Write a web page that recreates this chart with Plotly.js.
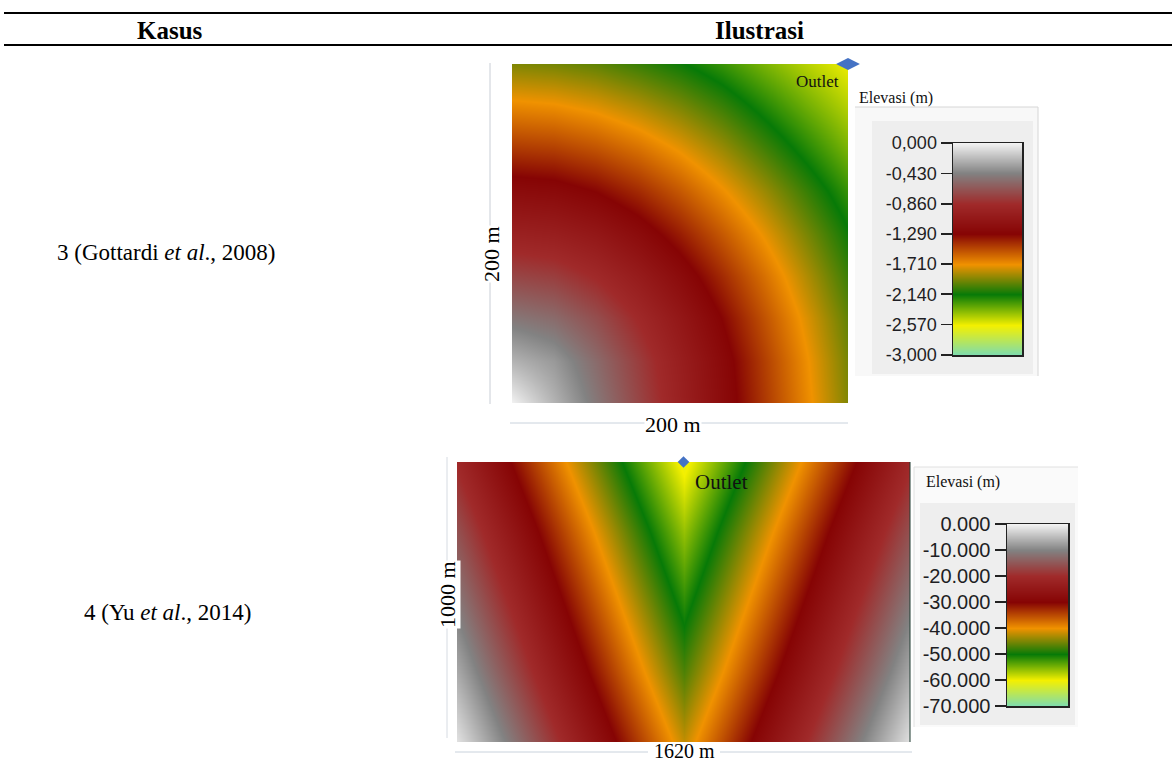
<!DOCTYPE html>
<html>
<head>
<meta charset="utf-8">
<script src="https://cdn.plot.ly/plotly-3.0.1.min.js"></script>
<style>
  html, body { margin: 0; padding: 0; background: #ffffff; }
  #chart { width: 1172px; height: 763px; }
</style>
</head>
<body>
<div id="chart"></div>
<script>
// Case 3 (Gottardi et al., 2008): 200 m x 200 m basin, elevation (m)
const case3X = [0, 25, 50, 75, 100, 125, 150, 175, 200];
const case3Y = [0, 25, 50, 75, 100, 125, 150, 175, 200];
const case3Z = [
  [ 0.00, -0.24, -0.48, -0.72, -0.96, -1.20, -1.44, -1.68, -1.92],
  [-0.24, -0.34, -0.54, -0.76, -0.99, -1.22, -1.46, -1.70, -1.94],
  [-0.48, -0.54, -0.68, -0.87, -1.07, -1.29, -1.52, -1.75, -1.98],
  [-0.72, -0.76, -0.87, -1.02, -1.20, -1.40, -1.61, -1.83, -2.05],
  [-0.96, -0.99, -1.07, -1.20, -1.36, -1.54, -1.73, -1.93, -2.13],
  [-1.20, -1.22, -1.29, -1.40, -1.54, -1.70, -1.87, -2.05, -2.23],
  [-1.44, -1.46, -1.52, -1.61, -1.73, -1.87, -2.03, -2.19, -2.35],
  [-1.68, -1.70, -1.75, -1.83, -1.93, -2.05, -2.19, -2.33, -2.46],
  [-1.92, -1.94, -1.98, -2.05, -2.13, -2.23, -2.35, -2.46, -2.56]
];
const case3Outlet = { x: [200], y: [200] };
const case3Ticks = [0, -0.43, -0.86, -1.29, -1.71, -2.14, -2.57, -3.0];
const case3TickText = ['0,000', '-0,430', '-0,860', '-1,290', '-1,710', '-2,140', '-2,570', '-3,000'];

// Case 4 (Yu et al., 2014): 1620 m x 1000 m V-shaped catchment, elevation (m)
const case4X = [0, 202.5, 405, 607.5, 810, 1012.5, 1215, 1417.5, 1620];
const case4Y = [0, 250, 500, 750, 1000];
const case4Z = [
  [ -1.5, -11.6, -21.7, -31.9, -42.0, -31.9, -21.7, -11.6,  -1.5],
  [ -6.5, -16.6, -26.7, -36.9, -47.0, -36.9, -26.7, -16.6,  -6.5],
  [-11.0, -21.1, -31.2, -41.4, -51.5, -41.4, -31.2, -21.1, -11.0],
  [-15.5, -25.6, -35.7, -45.9, -56.0, -45.9, -35.7, -25.6, -15.5],
  [-20.5, -30.6, -40.7, -50.9, -61.0, -50.9, -40.7, -30.6, -20.5]
];
const case4Outlet = { x: [810], y: [1000] };
const case4Ticks = [0, -10, -20, -30, -40, -50, -60, -70];
const case4TickText = ['0.000', '-10.000', '-20.000', '-30.000', '-40.000', '-50.000', '-60.000', '-70.000'];

// Elevation ramp, low (aqua) to high (white)
const elevColors = [
  [0, '#7ddcb0'], [1 / 7, '#f4f000'], [2 / 7, '#077a07'], [3 / 7, '#f09200'],
  [4 / 7, '#860404'], [5 / 7, '#a02a2a'], [6 / 7, '#828282'], [1, '#f2f2f2']
];

const W = 1172, H = 763;
const fx = p => p / W;
const fy = p => 1 - p / H;

const serif = 'Liberation Serif, Times New Roman, serif';
const sans = 'Liberation Sans, Arial, sans-serif';

const traces = [
  {
    type: 'heatmap', x: case3X, y: case3Y, z: case3Z,
    colorscale: elevColors, zmin: -3, zmax: 0, zsmooth: 'best',
    showscale: false, hoverinfo: 'skip', xaxis: 'x', yaxis: 'y'
  },
  {
    type: 'scatter', mode: 'markers', x: case3Outlet.x, y: case3Outlet.y,
    marker: { symbol: 'diamond-wide', size: 17, color: '#4472c4' },
    cliponaxis: false, hoverinfo: 'skip', xaxis: 'x', yaxis: 'y'
  },
  {
    type: 'heatmap', x: case4X, y: case4Y, z: case4Z,
    colorscale: elevColors, zmin: -70, zmax: 0, zsmooth: 'best',
    showscale: false, hoverinfo: 'skip', xaxis: 'x2', yaxis: 'y2'
  },
  {
    type: 'scatter', mode: 'markers', x: case4Outlet.x, y: case4Outlet.y,
    marker: { symbol: 'diamond', size: 9, color: '#4472c4' },
    cliponaxis: false, hoverinfo: 'skip', xaxis: 'x2', yaxis: 'y2'
  },
  // legend bars: one column of the ramp sampled at the tick values
  {
    type: 'heatmap', x: [0, 1], y: case3Ticks, z: case3Ticks.map(v => [v, v]),
    colorscale: elevColors, zmin: -3, zmax: 0, zsmooth: 'best',
    showscale: false, hoverinfo: 'skip', xaxis: 'x3', yaxis: 'y3'
  },
  {
    type: 'heatmap', x: [0, 1], y: case4Ticks, z: case4Ticks.map(v => [v, v]),
    colorscale: elevColors, zmin: -70, zmax: 0, zsmooth: 'best',
    showscale: false, hoverinfo: 'skip', xaxis: 'x4', yaxis: 'y4'
  }
];

const bare = {
  showgrid: false, zeroline: false, showticklabels: false, ticks: '',
  showline: false, fixedrange: true
};
const barX = Object.assign({}, bare, {
  range: [0, 1], showline: true, linecolor: '#222', linewidth: 1.5, mirror: true
});
const barY = (ticks, text, range, size) => ({
  range: range, showgrid: false, zeroline: false, fixedrange: true,
  tickmode: 'array', tickvals: ticks, ticktext: text,
  ticks: 'outside', ticklen: 11, tickwidth: 1.5, tickcolor: '#222',
  showline: true, linecolor: '#222', linewidth: 1.5, mirror: true,
  tickfont: { family: sans, size: size, color: '#1e1e24' }
});

const ann = (text, x, y, o) => Object.assign({
  text: text, x: fx(x), y: fy(y), xref: 'paper', yref: 'paper',
  showarrow: false, xanchor: 'center', yanchor: 'middle',
  font: { family: serif, size: 22, color: '#000' }
}, o || {});

const line = (x0, y0, x1, y1, color, width) => ({
  type: 'line', xref: 'paper', yref: 'paper',
  x0: fx(x0), y0: fy(y0), x1: fx(x1), y1: fy(y1),
  line: { color: color, width: width }
});
const rect = (x0, y0, x1, y1, fill) => ({
  type: 'rect', xref: 'paper', yref: 'paper', layer: 'below',
  x0: fx(x0), y0: fy(y1), x1: fx(x1), y1: fy(y0),
  fillcolor: fill, line: { width: 0 }
});

const layout = {
  width: W, height: H,
  margin: { l: 0, r: 0, t: 0, b: 0 },
  paper_bgcolor: '#ffffff', plot_bgcolor: 'rgba(0,0,0,0)',
  showlegend: false,
  xaxis: Object.assign({}, bare, { domain: [fx(512), fx(848)], range: [0, 200], anchor: 'y' }),
  yaxis: Object.assign({}, bare, { domain: [fy(403), fy(64)], range: [0, 200], anchor: 'x' }),
  xaxis2: Object.assign({}, bare, { domain: [fx(457), fx(910)], range: [0, 1620], anchor: 'y2' }),
  yaxis2: Object.assign({}, bare, { domain: [fy(742), fy(462)], range: [0, 1000], anchor: 'x2' }),
  xaxis3: Object.assign({}, barX, { domain: [fx(953), fx(1022)], anchor: 'y3' }),
  yaxis3: Object.assign(barY(case3Ticks, case3TickText, [-3, 0], 18), { domain: [fy(355), fy(143)], anchor: 'x3' }),
  xaxis4: Object.assign({}, barX, { domain: [fx(1007), fx(1068)], anchor: 'y4' }),
  yaxis4: Object.assign(barY(case4Ticks, case4TickText, [-70, 0], 20), { domain: [fy(706), fy(524)], anchor: 'x4' }),
  shapes: [
    // table rules
    line(4, 13, 1172, 13, '#000', 2.2),
    line(4, 45, 1172, 45, '#000', 2.2),
    // legend panels
    rect(855, 107, 1038, 376, '#f8f8f8'),
    rect(872, 121, 1033, 374, '#eeeeee'),
    line(855, 107, 1038, 107, '#d6d6d6', 1),
    line(1038, 107, 1038, 376, '#d6d6d6', 1),
    rect(914, 467, 1078, 727, '#fafafa'),
    rect(920, 503, 1075, 725, '#eeeeee'),
    line(914, 467, 1078, 467, '#e0e0e0', 1),
    line(914, 467, 914, 727, '#e0e0e0', 1),
    // dimension guides
    line(490, 63, 490, 404, '#c9ced6', 1),
    line(510, 423, 848, 423, '#c9d2dc', 1),
    line(447, 457, 447, 738, '#d6dbe2', 1),
    line(455, 752, 648, 752, '#c9d2dc', 1),
    line(720, 752, 912, 752, '#c9d2dc', 1),
    // right edge of case 4 map
    line(910, 462, 910, 742, '#1f3a30', 1)
  ],
  annotations: [
    ann('<b>Kasus</b>', 170, 31, { font: { family: serif, size: 25, color: '#000' } }),
    ann('<b>Ilustrasi</b>', 759, 31, { font: { family: serif, size: 25, color: '#000' } }),
    ann('3 (Gottardi <i>et al</i>., 2008)', 166, 252, { font: { family: serif, size: 23, color: '#000' } }),
    ann('4 (Yu <i>et al</i>., 2014)', 167, 612, { font: { family: serif, size: 23, color: '#000' } }),
    ann('Outlet', 817, 81, { font: { family: serif, size: 17, color: '#111' } }),
    ann('Outlet', 722, 482, { font: { family: serif, size: 21, color: '#111' } }),
    ann('Elevasi (m)', 857, 98, { xanchor: 'left', font: { family: serif, size: 16, color: '#111' } }),
    ann('Elevasi (m)', 924, 482, { xanchor: 'left', font: { family: serif, size: 16, color: '#111' } }),
    ann('200 m', 491, 254, { textangle: -90, bgcolor: '#ffffff', borderpad: 0 }),
    ann('200 m', 673, 424, { bgcolor: '#ffffff', borderpad: 0 }),
    ann('1000 m', 447, 595, { textangle: -90, bgcolor: '#ffffff', borderpad: 0 }),
    ann('1620 m', 684, 751, { font: { family: serif, size: 20, color: '#000' } })
  ]
};

Plotly.newPlot('chart', traces, layout, { staticPlot: true, displayModeBar: false });
</script>
</body>
</html>
